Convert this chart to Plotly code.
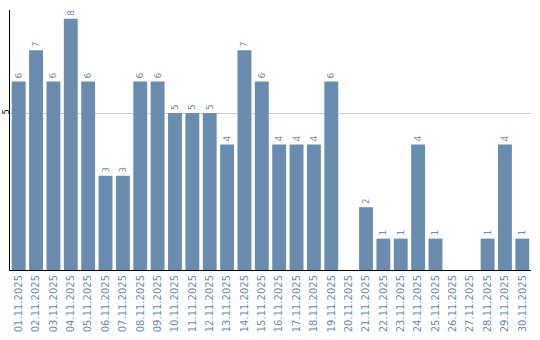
import plotly.graph_objects as go

dates = [f"{d:02d}.11.2025" for d in range(1, 31)]
values = [6, 7, 6, 8, 6, 3, 3, 6, 6, 5, 5, 5, 4, 7, 6, 4, 4, 4, 6, 0,
          2, 1, 1, 4, 1, 0, 0, 1, 4, 1]
labels = [str(v) if v else "" for v in values]

color = "#6a8cae"

fig = go.Figure(go.Bar(
    x=dates, y=values, text=labels, textposition="outside",
    textangle=-90, cliponaxis=False,
    textfont=dict(family="DejaVu Sans", size=9, color=color),
    marker=dict(color=color, line=dict(width=0)),
))
fig.update_layout(
    width=540, height=340, margin=dict(l=10, r=9, t=10, b=70),
    paper_bgcolor="white", plot_bgcolor="white", bargap=0.2,
    showlegend=False, font=dict(family="DejaVu Sans"),
)
fig.update_xaxes(
    type="category", tickangle=-90, showline=True, linecolor="black",
    linewidth=1, ticks="", showgrid=False, automargin=False,
    tickfont=dict(family="DejaVu Sans", size=10, color=color),
)
fig.update_yaxes(
    range=[0, 8.28], tickvals=[5], ticktext=["5"], tickangle=-90,
    showline=True, linecolor="black", linewidth=1, ticks="",
    showgrid=True, gridcolor="#cccccc", gridwidth=1, zeroline=False,
    automargin=False, ticklabelstandoff=-3,
    tickfont=dict(family="DejaVu Sans", size=8, color="black"),
)
fig.write_html("out.html")
